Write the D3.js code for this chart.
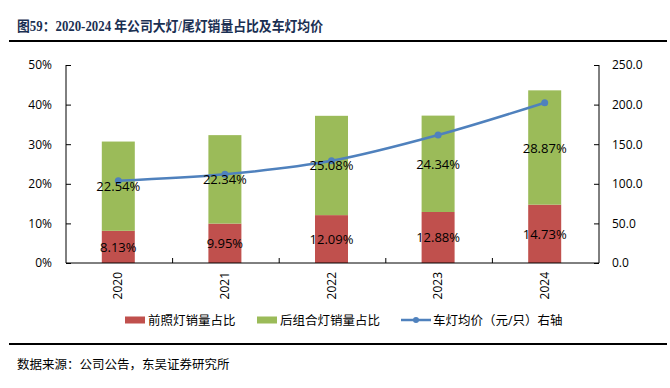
<!DOCTYPE html>
<html><head><meta charset="utf-8">
<script src="https://cdn.jsdelivr.net/npm/d3@7"></script>
<style>body{margin:0;background:#fff}svg{display:block}</style>
</head><body><svg id="c" width="670" height="388"></svg>
<script>
const years = ["2020","2021","2022","2023","2024"];
const headlampShare = [8.13, 9.95, 12.09, 12.88, 14.73];
const rearShare = [22.54, 22.34, 25.08, 24.34, 28.87];
const avgPrice = [103.9, 112.0, 129.0, 161.6, 202.4];
const leftTicks = [0,10,20,30,40,50];
const rightTicks = [0,50,100,150,200,250];

const svg = d3.select("#c");
const L = 66, R = 599, T = 65, B = 263;
const x = d3.scaleBand().domain(years).range([L, R]);
const yL = d3.scaleLinear().domain([0, 50]).range([B, T]);
const yR = d3.scaleLinear().domain([0, 250]).range([B, T]);
const sans = "'Open Sans','Noto Sans CJK SC',sans-serif";

// title
svg.append("text").attr("x", 17).attr("y", 31)
  .attr("font-family", "'Liberation Serif','Noto Sans CJK SC',serif")
  .attr("font-weight", "bold").attr("font-size", 14).attr("fill", "#1a2f52")
  .attr("textLength", 306).attr("lengthAdjust", "spacingAndGlyphs")
  .text("图59：2020-2024 年公司大灯/尾灯销量占比及车灯均价");
svg.append("line").attr("x1", 9).attr("x2", 667).attr("y1", 41).attr("y2", 41)
  .attr("stroke", "#000").attr("stroke-width", 2);

// bars
const bw = 33;
const g = svg.append("g");
years.forEach((yr, i) => {
  const cx = x(yr) + x.bandwidth() / 2 - 1;
  g.append("rect").attr("x", cx - bw/2).attr("width", bw)
    .attr("y", yL(headlampShare[i])).attr("height", yL(0) - yL(headlampShare[i]))
    .attr("fill", "#C0504D");
  const top = headlampShare[i] + rearShare[i];
  g.append("rect").attr("x", cx - bw/2).attr("width", bw)
    .attr("y", yL(top)).attr("height", yL(headlampShare[i]) - yL(top))
    .attr("fill", "#9BBB59");
});

// axes
const axL = svg.append("g").attr("transform", `translate(${L},0)`)
  .call(d3.axisRight(yL).tickValues(leftTicks).tickSize(5).tickFormat(d => d + "%"));
axL.selectAll("text").attr("x", -14).attr("text-anchor", "end");
const axR = svg.append("g").attr("transform", `translate(${R},0)`)
  .call(d3.axisLeft(yR).tickValues(rightTicks).tickSize(5).tickFormat(d3.format(".1f")));
axR.selectAll("text").attr("x", 13).attr("text-anchor", "start");
[axL, axR].forEach(a => {
  a.selectAll("text").attr("font-family", sans).attr("font-size", 12).attr("fill", "#000");
  a.selectAll("line,path").attr("stroke", "#000");
  a.select(".domain").attr("d", null);
});
axL.append("line").attr("y1", T).attr("y2", B).attr("stroke", "#000");
axR.append("line").attr("y1", T).attr("y2", B).attr("stroke", "#000");

// x axis
const axX = svg.append("g");
axX.append("line").attr("x1", L).attr("x2", R).attr("y1", B).attr("y2", B).attr("stroke", "#000");
years.forEach((yr, i) => {
  if (i > 0) axX.append("line").attr("x1", x(yr)).attr("x2", x(yr)).attr("y1", B).attr("y2", B - 5).attr("stroke", "#000");
  const cx = x(yr) + x.bandwidth() / 2 - 1;
  axX.append("text").attr("transform", `translate(${cx + 4},${272}) rotate(-90)`)
    .attr("text-anchor", "end").attr("font-family", sans).attr("font-size", 12).text(yr);
});

// line
const pts = years.map((yr, i) => [x(yr) + x.bandwidth() / 2 - 1, yR(avgPrice[i])]);
svg.append("path").attr("d", d3.line().curve(d3.curveCatmullRom)(pts))
  .attr("fill", "none").attr("stroke", "#4F81BD").attr("stroke-width", 2.5);
svg.selectAll(".pt").data(pts).join("circle").attr("cx", d => d[0]).attr("cy", d => d[1])
  .attr("r", 3.5).attr("fill", "#4F81BD");

// labels
years.forEach((yr, i) => {
  const cx = x(yr) + x.bandwidth() / 2 - 1;
  svg.append("text").attr("x", cx).attr("y", yL(headlampShare[i] / 2) + 5)
    .attr("text-anchor", "middle").attr("font-family", sans).attr("font-size", 13)
    .text(headlampShare[i].toFixed(2) + "%");
  svg.append("text").attr("x", cx).attr("y", yL(headlampShare[i] + rearShare[i] / 2) + 5)
    .attr("text-anchor", "middle").attr("font-family", sans).attr("font-size", 13)
    .text(rearShare[i].toFixed(2) + "%");
});

// legend
const ly = 320;
const lg = svg.append("g").attr("font-family", sans).attr("font-size", 12.5);
lg.append("rect").attr("x", 125).attr("y", ly - 3.5).attr("width", 20).attr("height", 7).attr("fill", "#C0504D");
lg.append("text").attr("x", 148).attr("y", ly + 4.5).text("前照灯销量占比");
lg.append("rect").attr("x", 257).attr("y", ly - 3.5).attr("width", 20).attr("height", 7).attr("fill", "#9BBB59");
lg.append("text").attr("x", 280).attr("y", ly + 4.5).text("后组合灯销量占比");
lg.append("line").attr("x1", 401).attr("x2", 431).attr("y1", ly).attr("y2", ly).attr("stroke", "#4F81BD").attr("stroke-width", 2.5);
lg.append("circle").attr("cx", 416).attr("cy", ly).attr("r", 3).attr("fill", "#4F81BD");
lg.append("text").attr("x", 433).attr("y", ly + 4.5).text("车灯均价（元/只）右轴");

// footer
svg.append("line").attr("x1", 9).attr("x2", 667).attr("y1", 344).attr("y2", 344)
  .attr("stroke", "#000").attr("stroke-width", 2);
svg.append("text").attr("x", 17).attr("y", 369)
  .attr("font-family", "'Noto Sans CJK SC',serif").attr("font-size", 12.5).attr("fill", "#000")
  .text("数据来源：公司公告，东吴证券研究所");
</script></body></html>
